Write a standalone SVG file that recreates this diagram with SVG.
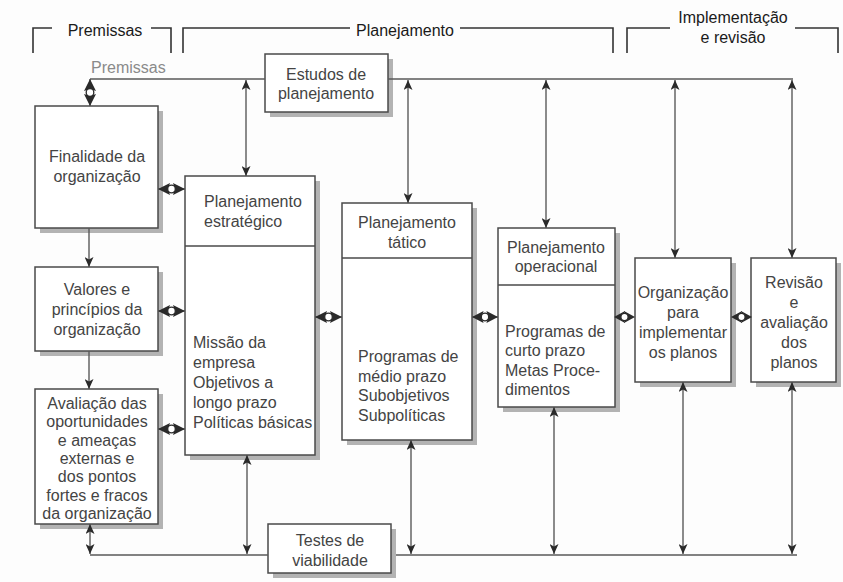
<svg xmlns="http://www.w3.org/2000/svg" width="843" height="582" viewBox="0 0 843 582">
<defs>
<style>
.bg{fill:#fdfdfd}
.box{fill:#fff;stroke:#4a4a4a;stroke-width:1.5}
.sh{fill:#b3b3b3}
.div{stroke:#4a4a4a;stroke-width:1.5}
.ln{stroke:#5a5a5a;stroke-width:1.4;fill:none}
.br{stroke:#333;stroke-width:1.6;fill:none}
.t{font-family:"Liberation Sans",Arial,sans-serif;font-size:16px;fill:#444}
.c{text-anchor:middle}
.h{font-family:"Liberation Sans",Arial,sans-serif;font-size:16px;fill:#1a1a1a;text-anchor:middle}
.g{font-family:"Liberation Sans",Arial,sans-serif;font-size:16px;fill:#8a8a8a}
.tri{fill:#2a2a2a}
.ring{fill:#fff;stroke:#2a2a2a;stroke-width:1.3}
</style>
<marker id="ah" viewBox="0 0 10 9" refX="10" refY="4.5" markerWidth="10" markerHeight="9" markerUnits="userSpaceOnUse" orient="auto-start-reverse">
<path d="M0,0 L10,4.5 L0,9 L2.5,4.5 Z" fill="#2a2a2a"/>
</marker>
<g id="hd27">
<line class="ln" x1="0" y1="0" x2="27" y2="0"/>
<path class="tri" d="M0,0 L12,-6 L10,0 L12,6 Z"/>
<path class="tri" d="M27,0 L15,-6 L17,0 L15,6 Z"/>
<circle class="ring" cx="13.5" cy="0" r="3.8"/>
</g>
</defs>
<rect class="bg" x="0" y="0" width="843" height="582"/>

<g id="headers">
<path class="br" d="M33,53 V28 H52 M151,28 H171 V53"/>
<text class="h" x="105" y="36">Premissas</text>
<path class="br" d="M183,53 V28 H350 M460,28 H613 V53"/>
<text class="h" x="405" y="36">Planejamento</text>
<path class="br" d="M627,53 V28 H670 M795,28 H838 V53"/>
<text class="h" x="733" y="23">Implementação</text>
<text class="h" x="733" y="43">e revisão</text>
<text class="g" x="91" y="73">Premissas</text>
</g>

<g id="estudos">
<rect class="sh" x="270" y="59" width="123" height="58"/>
<rect class="box" x="265" y="54" width="123" height="58"/>
<text class="t c" x="326" y="80">Estudos de</text>
<text class="t c" x="326" y="99">planejamento</text>
</g>

<g id="finalidade">
<rect class="sh" x="40" y="111" width="123" height="122"/>
<rect class="box" x="35" y="106" width="123" height="122"/>
<text class="t c" x="97" y="162">Finalidade da</text>
<text class="t c" x="97" y="182">organização</text>
</g>

<g id="valores">
<rect class="sh" x="40" y="272" width="123" height="84"/>
<rect class="box" x="35" y="267" width="123" height="84"/>
<text class="t c" x="97" y="295">Valores e</text>
<text class="t c" x="97" y="315">princípios da</text>
<text class="t c" x="97" y="335">organização</text>
</g>

<g id="avaliacao">
<rect class="sh" x="40" y="394" width="123" height="135"/>
<rect class="box" x="35" y="389" width="123" height="135"/>
<g style="font-size:15.5px">
<text class="t c" x="97" y="409">Avaliação das</text>
<text class="t c" x="97" y="427">oportunidades</text>
<text class="t c" x="97" y="446">e ameaças</text>
<text class="t c" x="97" y="464">externas e</text>
<text class="t c" x="97" y="482">dos pontos</text>
<text class="t c" x="97" y="501">fortes e fracos</text>
<text class="t c" x="97" y="519">da organização</text>
</g>
</g>

<g id="estrategico">
<rect class="sh" x="190" y="181" width="130" height="279"/>
<rect class="box" x="185" y="176" width="130" height="279"/>
<line class="div" x1="185" y1="246" x2="315" y2="246"/>
<text class="t" x="204" y="207">Planejamento</text>
<text class="t" x="204" y="227">estratégico</text>
<text class="t" x="193" y="348">Missão da</text>
<text class="t" x="193" y="368">empresa</text>
<text class="t" x="193" y="388">Objetivos a</text>
<text class="t" x="193" y="408">longo prazo</text>
<text class="t" x="193" y="428">Políticas básicas</text>
</g>

<g id="tatico">
<rect class="sh" x="347" y="208" width="130" height="237"/>
<rect class="box" x="342" y="203" width="130" height="237"/>
<line class="div" x1="342" y1="258" x2="472" y2="258"/>
<text class="t c" x="407" y="228">Planejamento</text>
<text class="t c" x="407" y="248">tático</text>
<text class="t" x="358" y="362">Programas de</text>
<text class="t" x="358" y="382">médio prazo</text>
<text class="t" x="358" y="401">Subobjetivos</text>
<text class="t" x="358" y="421">Subpolíticas</text>
</g>

<g id="operacional">
<rect class="sh" x="503" y="233" width="117" height="179"/>
<rect class="box" x="498" y="228" width="117" height="179"/>
<line class="div" x1="498" y1="285" x2="615" y2="285"/>
<text class="t c" x="556" y="253">Planejamento</text>
<text class="t c" x="556" y="272">operacional</text>
<text class="t" x="505" y="337">Programas de</text>
<text class="t" x="505" y="356">curto prazo</text>
<text class="t" x="505" y="376">Metas Proce-</text>
<text class="t" x="505" y="395">dimentos</text>
</g>

<g id="organizacao">
<rect class="sh" x="640" y="263" width="96" height="124"/>
<rect class="box" x="635" y="258" width="96" height="124"/>
<text class="t c" x="683" y="298">Organização</text>
<text class="t c" x="683" y="318">para</text>
<text class="t c" x="683" y="338">implementar</text>
<text class="t c" x="683" y="358">os planos</text>
</g>

<g id="revisao">
<rect class="sh" x="756" y="263" width="85" height="124"/>
<rect class="box" x="751" y="258" width="85" height="124"/>
<text class="t c" x="794" y="288">Revisão</text>
<text class="t c" x="794" y="308">e</text>
<text class="t c" x="794" y="328">avaliação</text>
<text class="t c" x="794" y="348">dos</text>
<text class="t c" x="794" y="368">planos</text>
</g>

<g id="testes">
<rect class="sh" x="273" y="529" width="123" height="49"/>
<rect class="box" x="268" y="524" width="123" height="49"/>
<text class="t c" x="330" y="546">Testes de</text>
<text class="t c" x="330" y="566">viabilidade</text>
</g>

<g id="connectors">
<!-- top line -->
<path class="ln" d="M90,79 H265 M388,79 H793"/>
<!-- bottom line -->
<path class="ln" d="M90,555 H268 M396,555 H797"/>
<!-- verticals from top line -->
<use href="#hd27" transform="translate(90,79) rotate(90)"/>
<line class="ln" x1="246" y1="80" x2="246" y2="176" marker-start="url(#ah)" marker-end="url(#ah)"/>
<line class="ln" x1="408" y1="80" x2="408" y2="203" marker-start="url(#ah)" marker-end="url(#ah)"/>
<line class="ln" x1="546" y1="80" x2="546" y2="228" marker-start="url(#ah)" marker-end="url(#ah)"/>
<line class="ln" x1="675" y1="80" x2="675" y2="258" marker-start="url(#ah)" marker-end="url(#ah)"/>
<line class="ln" x1="792" y1="80" x2="792" y2="258" marker-start="url(#ah)" marker-end="url(#ah)"/>
<!-- verticals to bottom line -->
<line class="ln" x1="90" y1="524" x2="90" y2="554" marker-start="url(#ah)" marker-end="url(#ah)"/>
<line class="ln" x1="247" y1="455" x2="247" y2="554" marker-start="url(#ah)" marker-end="url(#ah)"/>
<line class="ln" x1="411" y1="440" x2="411" y2="554" marker-start="url(#ah)" marker-end="url(#ah)"/>
<line class="ln" x1="554" y1="407" x2="554" y2="554" marker-start="url(#ah)" marker-end="url(#ah)"/>
<line class="ln" x1="683" y1="382" x2="683" y2="554" marker-start="url(#ah)" marker-end="url(#ah)"/>
<line class="ln" x1="792" y1="382" x2="792" y2="554" marker-start="url(#ah)" marker-end="url(#ah)"/>
<!-- left chain -->
<line class="ln" x1="89" y1="228" x2="89" y2="267" marker-end="url(#ah)"/>
<line class="ln" x1="89" y1="351" x2="89" y2="389" marker-end="url(#ah)"/>
<!-- horizontal double links -->
<use href="#hd27" transform="translate(158,189)"/>
<use href="#hd27" transform="translate(158,311)"/>
<use href="#hd27" transform="translate(158,429)"/>
<use href="#hd27" transform="translate(315,317)"/>
<use href="#hd27" transform="translate(472,317) scale(0.963,1)"/>
<path class="tri" d="M614,317 L625,311 L623,317 L625,323 Z"/>
<path class="tri" d="M635,317 L624,311 L626,317 L624,323 Z"/>
<circle class="ring" cx="624.5" cy="317" r="3.6"/>
<path class="tri" d="M731,317 L742,311 L740,317 L742,323 Z"/>
<path class="tri" d="M752,317 L741,311 L743,317 L741,323 Z"/>
<circle class="ring" cx="741.5" cy="317" r="3.6"/>
</g>
</svg>
